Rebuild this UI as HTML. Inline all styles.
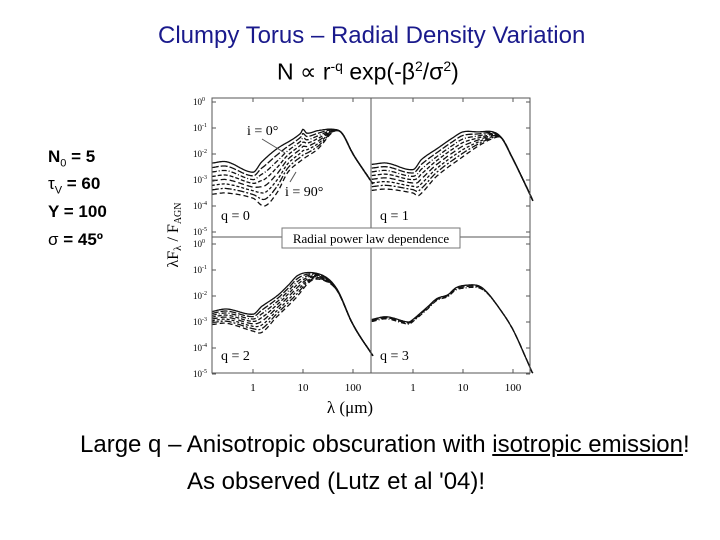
<!DOCTYPE html>
<html><head><meta charset="utf-8"><style>
body{margin:0;width:720px;height:540px;background:#fff;position:relative;overflow:hidden;font-family:"Liberation Sans",sans-serif}
.t{position:absolute;white-space:nowrap}
.p{font-weight:bold;font-size:17px}
</style></head><body>
<div class="t" style="left:158px;top:22px;font-size:24px;color:#1a1a8c">Clumpy Torus – Radial Density Variation</div>
<div class="t" style="left:277px;top:58px;font-size:23px">N ∝ r<sup style="font-size:14px">-q</sup> exp(-β<sup style="font-size:14px">2</sup>/σ<sup style="font-size:14px">2</sup>)</div>
<div class="t p" style="left:48px;top:147px">N<sub style="font-size:11px;font-weight:normal">0</sub> = 5</div>
<div class="t p" style="left:48px;top:174px"><span style="font-weight:normal">τ<sub style="font-size:11px">V</sub></span> = 60</div>
<div class="t p" style="left:48px;top:202px">Y = 100</div>
<div class="t p" style="left:48px;top:230px"><span style="font-weight:normal">σ</span> = 45º</div>
<div class="t" style="left:80px;top:431px;font-size:24px">Large q – Anisotropic obscuration with <u>isotropic emission</u>!</div>
<div class="t" style="left:187px;top:468px;font-size:24px">As observed (Lutz et al '04)!</div>
<svg id="s" width="720" height="540" style="position:absolute;left:0;top:0" font-family="Liberation Serif,serif"></svg>
<script>
const s=document.getElementById('s');let h='';
function X(p,l){const c=p==0?253:413;return c+50*Math.log10(l);}
function Y(row,v){const t=row==0?102:244;return t-26*v;}
const D={
0:[[[.15,-2.35],[.3,-2.3],[1,-2.7],[1.5,-2.3],[3,-1.8],[6,-1.45],[9,-1.2],[10,-1.05],[12,-1.2],[20,-1.1],[40,-1.05],[60,-1.2],[100,-2.0],[160,-2.6],[250,-3.15]],
   [[.15,-3.55],[.3,-3.5],[1,-3.7],[1.7,-4.0],[3,-3.5],[5,-2.7],[10,-2.2],[20,-1.8],[40,-1.15],[60,-1.2],[100,-2.0],[160,-2.6],[250,-3.15]]],
1:[[[.15,-2.4],[.3,-2.35],[1,-2.6],[1.5,-2.2],[3,-1.8],[6,-1.4],[10,-1.15],[20,-1.15],[40,-1.15],[60,-1.4],[100,-2.2],[160,-3.0],[250,-3.8]],
   [[.15,-3.4],[.3,-3.35],[1,-3.5],[1.3,-3.6],[3,-2.85],[10,-2.1],[20,-1.7],[40,-1.4],[60,-1.4],[100,-2.2],[160,-3.0],[250,-3.8]]],
2:[[[.15,-2.6],[.3,-2.5],[1,-2.7],[1.5,-2.4],[3,-2.0],[5,-1.6],[8,-1.2],[15,-1.1],[30,-1.3],[50,-1.8],[100,-3.1],[250,-4.3]],
   [[.15,-3.1],[.3,-3.05],[1,-3.35],[1.5,-3.4],[3,-2.8],[7,-2.1],[15,-1.4],[30,-1.45],[50,-1.85],[100,-3.1],[250,-4.3]]],
3:[[[.15,-2.9],[.3,-2.8],[.8,-3.0],[1,-2.9],[2,-2.4],[3,-2.1],[5,-1.95],[7,-1.7],[10,-1.6],[20,-1.6],[30,-1.85],[50,-2.4],[100,-3.3],[250,-5.0]],
   [[.15,-2.98],[.3,-2.88],[.8,-3.08],[1,-2.98],[2,-2.48],[3,-2.17],[5,-2.02],[7,-1.78],[10,-1.7],[20,-1.68],[30,-1.88],[50,-2.4],[100,-3.3],[250,-5.0]]]};
function itp(a,l){const x=Math.log10(l);const xs=a.map(p=>Math.log10(p[0])),ys=a.map(p=>p[1]);const n=a.length;
 let i=0;while(i<n-2&&x>xs[i+1])i++;
 const m=k=>k==0?(ys[1]-ys[0])/(xs[1]-xs[0]):k==n-1?(ys[n-1]-ys[n-2])/(xs[n-1]-xs[n-2]):(ys[k+1]-ys[k-1])/(xs[k+1]-xs[k-1]);
 const hh=xs[i+1]-xs[i],t=Math.max(0,Math.min(1,(x-xs[i])/hh));
 const h00=2*t*t*t-3*t*t+1,h10=t*t*t-2*t*t+t,h01=-2*t*t*t+3*t*t,h11=t*t*t-t*t;
 return h00*ys[i]+h10*hh*m(i)+h01*ys[i+1]+h11*hh*m(i+1);}
const dash=['','7 2','5 2 1 2','4 2','6 3','3 2','7 2 2 2','5 3'];
for(let q=0;q<4;q++){const p=q%2,row=q>1?1:0;const n=q==3?3:8;
 for(let k=0;k<n;k++){const f=k/(n-1);let pts=[];
  for(let j=0;j<=200;j++){const l=0.15*Math.pow(250/0.15,j/200);const v=itp(D[q][0],l)*(1-f)+itp(D[q][1],l)*f;
   let x=X(p,l),y=Y(row,v);const t=row==0?98:237,b=row==0?237:373;y=Math.min(b,Math.max(t,y));pts.push(x.toFixed(1)+','+y.toFixed(1));}
  h+=`<polyline points="${pts.join(' ')}" fill="none" stroke="#111" stroke-width="1.3" stroke-dasharray="${dash[k]}"/>`;}}
h+=`<rect x="212" y="98" width="318" height="275" fill="none" stroke="#555"/><line x1="371" y1="98" x2="371" y2="373" stroke="#555"/><line x1="212" y1="237" x2="530" y2="237" stroke="#555"/>`;
for(let row=0;row<2;row++)for(let e=0;e<=5;e++){const y=Y(row,-e);
 h+=`<text x="193" y="${y+3}" font-size="9">10<tspan dy="-4" font-size="6">${e?'-'+e:'0'}</tspan></text>`;
 [212,530].forEach(x0=>{const d=x0==212?4:-4;h+=`<line x1="${x0}" y1="${y}" x2="${x0+d}" y2="${y}" stroke="#555"/>`;});}
for(let p=0;p<2;p++){['1','10','100'].forEach((t,i)=>{const x=X(p,Math.pow(10,i));h+=`<text x="${x}" y="391" font-size="11" text-anchor="middle">${t}</text><line x1="${x}" y1="373" x2="${x}" y2="369" stroke="#555"/><line x1="${x}" y1="98" x2="${x}" y2="102" stroke="#555"/>`;});}
h+=`<rect x="282" y="228" width="178" height="20" fill="#fff" stroke="#777"/><text x="371" y="243" font-size="13" text-anchor="middle">Radial power law dependence</text>`;
h+=`<text x="221" y="220" font-size="14">q = 0</text><text x="380" y="220" font-size="14">q = 1</text><text x="221" y="360" font-size="14">q = 2</text><text x="380" y="360" font-size="14">q = 3</text>`;
h+=`<text x="247" y="135" font-size="14">i = 0°</text><line x1="262" y1="139" x2="285" y2="153" stroke="#555"/><text x="285" y="196" font-size="14">i = 90°</text><line x1="290" y1="182" x2="296" y2="172" stroke="#555"/>`;
h+=`<text x="350" y="413" font-size="17" text-anchor="middle">λ (μm)</text>`;
h+=`<text transform="translate(178,235) rotate(-90)" font-size="16" text-anchor="middle">λF<tspan font-size="11" dy="3">λ</tspan><tspan dy="-3"> / F</tspan><tspan font-size="10" dy="3">AGN</tspan></text>`;
s.innerHTML=h;
</script>
</body></html>
